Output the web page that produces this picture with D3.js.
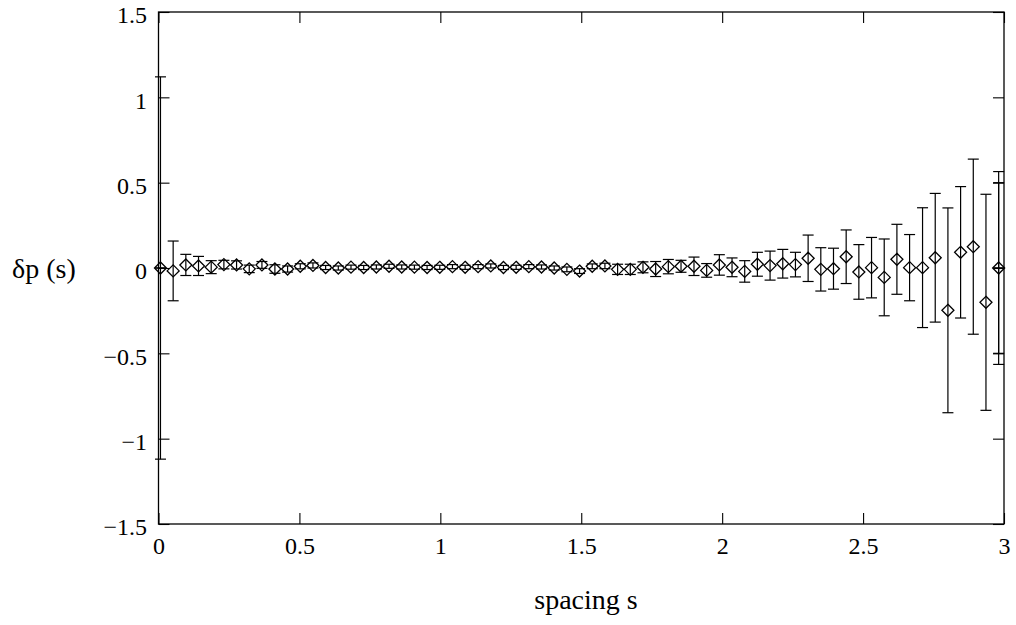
<!DOCTYPE html>
<html>
<head>
<meta charset="utf-8">
<script src="https://cdn.jsdelivr.net/npm/d3@7"></script>
<style>
  body { margin: 0; background: #fff; }
  svg { display: block; }
  text { font-family: "Liberation Serif", "Times New Roman", serif; fill: #000; }
</style>
</head>
<body>
<svg id="viz" width="1016" height="625"></svg>
<script>
// spacing s of each bin
var sValues = [
  0.007, 0.052, 0.097, 0.142, 0.187, 0.232, 0.277, 0.322, 0.367, 0.413,
  0.458, 0.503, 0.548, 0.593, 0.638, 0.683, 0.728, 0.773, 0.818, 0.863,
  0.908, 0.953, 0.998, 1.043, 1.088, 1.134, 1.179, 1.224, 1.269, 1.314,
  1.359, 1.404, 1.449, 1.494, 1.539, 1.584, 1.629, 1.674, 1.719, 1.764,
  1.809, 1.854, 1.900, 1.945, 1.990, 2.035, 2.080, 2.125, 2.170, 2.215,
  2.260, 2.305, 2.350, 2.395, 2.440, 2.485, 2.530, 2.575, 2.620, 2.665,
  2.711, 2.756, 2.801, 2.846, 2.891, 2.936, 2.981
];
// delta p(s)
var dpValues = [
  0, -0.017, 0.018, 0.012, 0.005, 0.020, 0.018, -0.005, 0.018, -0.006,
  -0.006, 0.010, 0.015, 0.003, 0.000, 0.005, 0.003, 0.006, 0.010, 0.006,
  0.005, 0.003, 0.004, 0.008, 0.004, 0.008, 0.012, 0.003, 0.004, 0.008,
  0.006, 0.000, -0.008, -0.018, 0.010, 0.012, -0.008, -0.008, 0.004, -0.006,
  0.008, 0.010, 0.010, -0.014, 0.018, 0.004, -0.020, 0.022, 0.014, 0.025,
  0.020, 0.057, -0.008, -0.004, 0.066, -0.023, 0.002, -0.055, 0.051, 0.002,
  0.002, 0.060, -0.248, 0.092, 0.125, -0.201, 0
];
// error bar half lengths
var errValues = [
  1.12, 0.175, 0.062, 0.056, 0.038, 0.025, 0.024, 0.022, 0.020, 0.025,
  0.018, 0.015, 0.015, 0.012, 0.012, 0.012, 0.012, 0.012, 0.012, 0.012,
  0.012, 0.012, 0.012, 0.012, 0.012, 0.012, 0.012, 0.012, 0.012, 0.012,
  0.012, 0.012, 0.014, 0.014, 0.014, 0.016, 0.030, 0.030, 0.032, 0.044,
  0.042, 0.035, 0.054, 0.040, 0.060, 0.055, 0.063, 0.070, 0.085, 0.084,
  0.072, 0.136, 0.127, 0.120, 0.157, 0.160, 0.177, 0.225, 0.205, 0.194,
  0.351, 0.377, 0.600, 0.385, 0.513, 0.633, 0.565
];
// extra overlapping bars at the end bins
var extraS = [0.007, 2.981, 2.981];
var extraDp = [0, 0, 0];
var extraErr = [0, 0.5, 0];

var xTicks = [0, 0.5, 1, 1.5, 2, 2.5, 3];
var yTicks = [-1.5, -1, -0.5, 0, 0.5, 1, 1.5];

(function() {
    var svg = d3.select('svg#viz');
    var x0 = 158.5, x1 = 1004, yTop = 12, yBot = 524;

    var x = d3.scaleLinear().domain([0, 3]).range([x0, x1]);
    var y = d3.scaleLinear().domain([-1.5, 1.5]).range([yBot, yTop]);
    var fmt = d3.format('~g');

    // axes, ticks pointing inward on every side
    svg.append('g')
        .attr('class', 'ax-bottom')
        .attr('transform', 'translate(0,' + yBot + ')')
        .call(d3.axisBottom(x).tickValues(xTicks).tickSize(-11).tickPadding(13).tickFormat(fmt));
    svg.append('g')
        .attr('transform', 'translate(0,' + yTop + ')')
        .call(d3.axisTop(x).tickValues(xTicks).tickSize(-11).tickFormat(''));
    svg.append('g')
        .attr('class', 'ax-left')
        .attr('transform', 'translate(' + x0 + ',0)')
        .call(d3.axisLeft(y).tickValues(yTicks).tickSize(-11).tickPadding(11.5).tickFormat(fmt));
    svg.append('g')
        .attr('transform', 'translate(' + x1 + ',0)')
        .call(d3.axisRight(y).tickValues(yTicks).tickSize(-11).tickFormat(''));

    svg.selectAll('.domain').remove();
    svg.selectAll('.tick line').attr('stroke', '#000').attr('stroke-width', 1.1);
    svg.selectAll('.tick text')
        .style('font-family', '"Liberation Serif", serif')
        .style('font-size', '24px')
        .attr('fill', '#000');
    svg.selectAll('.ax-left .tick text').attr('dy', '0.45em');

    svg.append('rect')
        .attr('x', x0).attr('y', yTop)
        .attr('width', x1 - x0).attr('height', yBot - yTop)
        .attr('fill', 'none').attr('stroke', '#000').attr('stroke-width', 1.3);

    var pts = sValues.map(function(s, i) {
        return { s: s, p: dpValues[i], e: errValues[i] };
    });
    var extra = extraS.map(function(s, i) {
        return { s: s, p: extraDp[i], e: extraErr[i] };
    });

    var bars = svg.append('g').attr('stroke', '#000').attr('stroke-width', 1.2).attr('fill', 'none');
    function drawBars(data) {
        var g = bars.selectAll(null).data(data).enter().append('g');
        g.append('line')
            .attr('x1', function(d) { return x(d.s); })
            .attr('x2', function(d) { return x(d.s); })
            .attr('y1', function(d) { return y(d.p - d.e); })
            .attr('y2', function(d) { return y(d.p + d.e); });
        g.append('line')
            .attr('x1', function(d) { return x(d.s) - 5.5; })
            .attr('x2', function(d) { return x(d.s) + 5.5; })
            .attr('y1', function(d) { return y(d.p + d.e); })
            .attr('y2', function(d) { return y(d.p + d.e); });
        g.append('line')
            .attr('x1', function(d) { return x(d.s) - 5.5; })
            .attr('x2', function(d) { return x(d.s) + 5.5; })
            .attr('y1', function(d) { return y(d.p - d.e); })
            .attr('y2', function(d) { return y(d.p - d.e); });
    }
    drawBars(pts);
    drawBars(extra);

    // diamond markers
    var r = 6;
    svg.append('g').selectAll('path').data(pts).enter().append('path')
        .attr('d', function(d) {
            var cx = x(d.s), cy = y(d.p);
            return 'M' + cx + ',' + (cy - r) + 'L' + (cx + r) + ',' + cy +
                   'L' + cx + ',' + (cy + r) + 'L' + (cx - r) + ',' + cy + 'Z';
        })
        .attr('fill', 'none')
        .attr('stroke', '#000')
        .attr('stroke-width', 1.3);

    // axis titles
    svg.append('text')
        .attr('x', 586).attr('y', 609)
        .attr('text-anchor', 'middle')
        .style('font-size', '28px')
        .text('spacing s');
    svg.append('text')
        .attr('x', 12).attr('y', 278)
        .style('font-size', '28px')
        .text('δp (s)');
})();
</script>
</body>
</html>
